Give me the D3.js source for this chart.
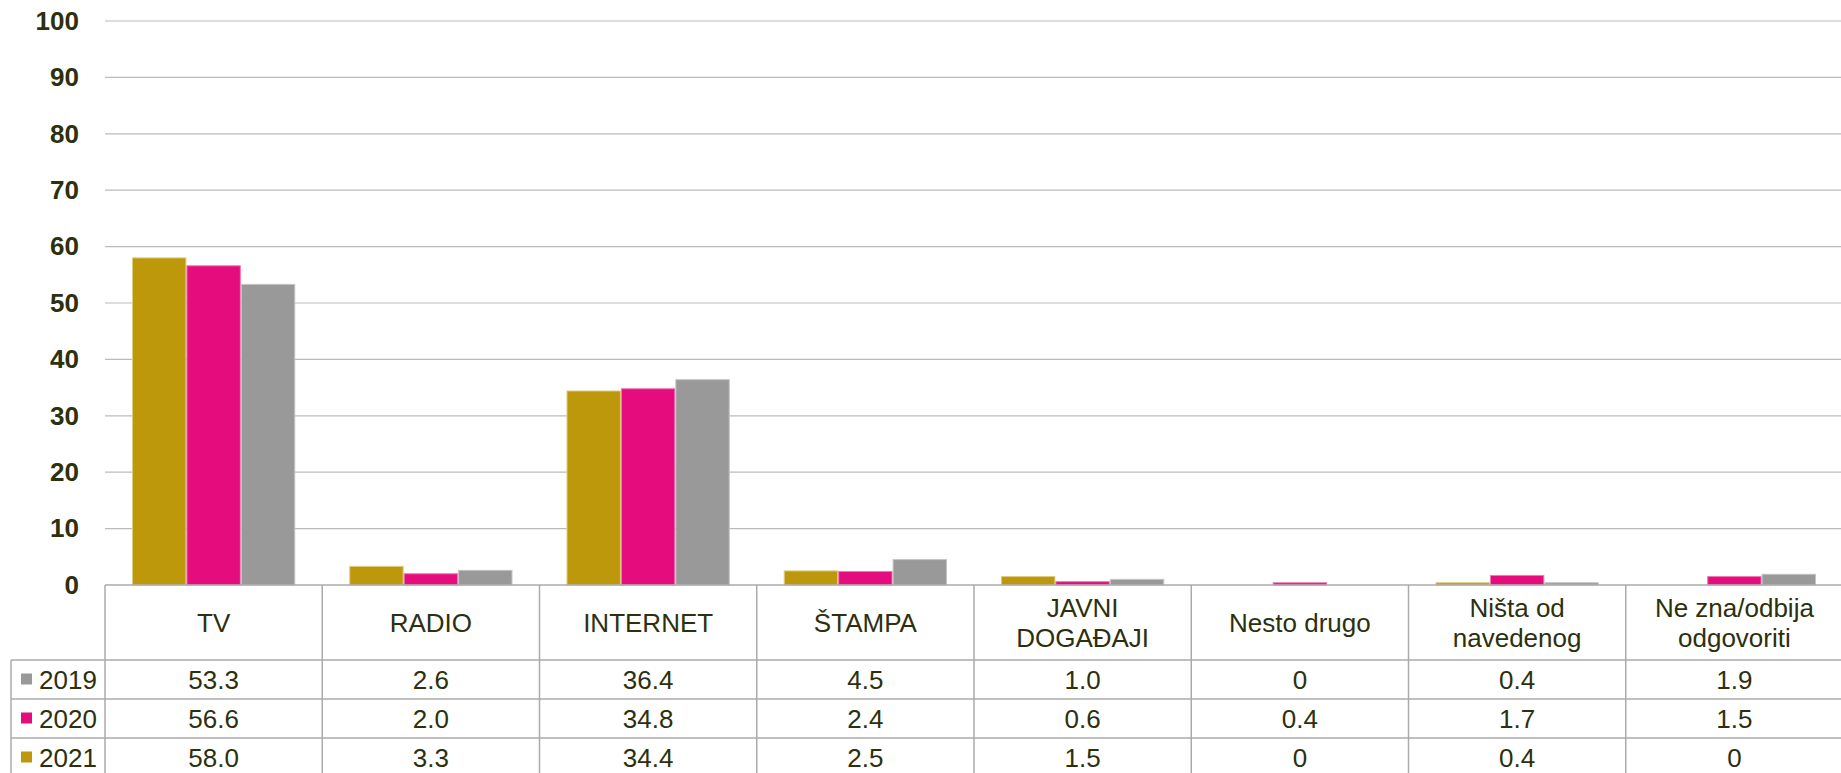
<!DOCTYPE html>
<html>
<head>
<meta charset="utf-8">
<script src="https://cdn.jsdelivr.net/npm/d3@7"></script>
<style>
  html, body { margin: 0; padding: 0; background: #fff; }
  svg { display: block; }
  text { font-family: "Liberation Sans", Arial, sans-serif; }
</style>
</head>
<body>
<svg id="chart" width="1841" height="773"></svg>
<script>
// Media sources by year (%)
const categories = ["TV", "RADIO", "INTERNET", "ŠTAMPA", "JAVNI DOGAĐAJI", "Nesto drugo", "Ništa od navedenog", "Ne zna/odbija odgovoriti"];
const categoryLines = [["TV"], ["RADIO"], ["INTERNET"], ["ŠTAMPA"], ["JAVNI", "DOGAĐAJI"], ["Nesto drugo"], ["Ništa od", "navedenog"], ["Ne zna/odbija", "odgovoriti"]];
const years = ["2019", "2020", "2021"];
const values2019 = [53.3, 2.6, 36.4, 4.5, 1.0, 0, 0.4, 1.9];
const values2020 = [56.6, 2.0, 34.8, 2.4, 0.6, 0.4, 1.7, 1.5];
const values2021 = [58.0, 3.3, 34.4, 2.5, 1.5, 0, 0.4, 0];
const yTicks = [0, 10, 20, 30, 40, 50, 60, 70, 80, 90, 100];

const seriesByYear = { "2019": values2019, "2020": values2020, "2021": values2021 };
const colors = { "2019": "#999999", "2020": "#e50d7e", "2021": "#bd980a" };
const strokeColors = { "2019": "#c4c4c4", "2020": "#f07ab4", "2021": "#e0cc80" };
const textColor = "#2c300d";
const gridColor = "#bbbbbb";
const tableColor = "#ababab";

const svg = d3.select("#chart");
const W = 1841;
const plotLeft = 105, plotRight = 1843;
const plotTop = 21, plotBottom = 585;
const headerBottom = 660, rowH = 39;
const legendLeft = 11;
const tableFont = "26px";

const x = d3.scaleBand().domain(categories).range([plotLeft, plotRight]).paddingInner(0).paddingOuter(0);
const barOrder = ["2021", "2020", "2019"];
const xInner = d3.scaleBand().domain(barOrder).range([27, x.bandwidth() - 27]).padding(0);
const y = d3.scaleLinear().domain([0, 100]).range([plotBottom, plotTop]);

// Horizontal gridlines and y axis labels
const yAxis = d3.axisLeft(y).tickValues(yTicks).tickSize(0).tickPadding(26);
const gAxis = svg.append("g").attr("transform", `translate(${plotLeft},0)`).call(yAxis);
gAxis.select(".domain").remove();
gAxis.selectAll("text")
  .attr("fill", textColor)
  .style("font-size", "26px")
  .style("font-weight", "bold")
  .style("font-family", "'Liberation Sans', Arial, sans-serif");

svg.append("g").selectAll("line")
  .data(yTicks.filter(t => t > 0))
  .join("line")
  .attr("x1", plotLeft).attr("x2", W)
  .attr("y1", d => y(d)).attr("y2", d => y(d))
  .attr("stroke", gridColor).attr("stroke-width", 1.2);

// Bars
const groups = svg.append("g").selectAll("g")
  .data(categories)
  .join("g")
  .attr("transform", d => `translate(${x(d)},0)`);

groups.selectAll("rect")
  .data((d, i) => barOrder.map(yr => ({ yr, v: seriesByYear[yr][i] })).filter(b => b.v > 0))
  .join("rect")
  .attr("x", d => xInner(d.yr) + 0.5)
  .attr("width", xInner.bandwidth() - 1)
  .attr("y", d => y(d.v))
  .attr("height", d => y(0) - y(d.v))
  .attr("fill", d => colors[d.yr])
  .attr("stroke", d => strokeColors[d.yr])
  .attr("stroke-width", 1);

// Data table below the chart
const table = svg.append("g");
const rowTops = years.map((yr, i) => headerBottom + i * rowH);

// top border of header row
table.append("line")
  .attr("x1", plotLeft).attr("x2", W)
  .attr("y1", plotBottom).attr("y2", plotBottom)
  .attr("stroke", tableColor).attr("stroke-width", 1.5);

// row borders
table.selectAll("line.row")
  .data(rowTops)
  .join("line").attr("class", "row")
  .attr("x1", legendLeft).attr("x2", W)
  .attr("y1", d => d).attr("y2", d => d)
  .attr("stroke", tableColor).attr("stroke-width", 1.5);

// column borders
table.selectAll("line.col")
  .data(categories)
  .join("line").attr("class", "col")
  .attr("x1", d => x(d)).attr("x2", d => x(d))
  .attr("y1", plotBottom).attr("y2", 773)
  .attr("stroke", tableColor).attr("stroke-width", 1.5);

table.append("line")
  .attr("x1", legendLeft).attr("x2", legendLeft)
  .attr("y1", headerBottom).attr("y2", 773)
  .attr("stroke", tableColor).attr("stroke-width", 1.5);

// category headers
const headerMid = (plotBottom + headerBottom) / 2;
table.selectAll("text.cat")
  .data(categories)
  .join("text").attr("class", "cat")
  .attr("text-anchor", "middle")
  .attr("fill", textColor)
  .style("font-size", tableFont)
  .each(function (d, i) {
    const lines = categoryLines[i];
    const lh = 30;
    const t = d3.select(this);
    lines.forEach((ln, k) => {
      t.append("tspan")
        .attr("x", x(d) + x.bandwidth() / 2)
        .attr("y", headerMid + (k - (lines.length - 1) / 2) * lh)
        .attr("dy", "0.35em")
        .text(ln);
    });
  });

// legend keys and values per row
const fmt = v => v === 0 ? "0" : v.toFixed(1);
years.forEach((yr, r) => {
  const cy = rowTops[r] + rowH / 2;
  table.append("rect")
    .attr("x", 21).attr("y", cy - 6)
    .attr("width", 11).attr("height", 11)
    .attr("fill", colors[yr]);
  table.append("text")
    .attr("x", 39).attr("y", cy).attr("dy", "0.35em")
    .attr("fill", textColor)
    .style("font-size", tableFont)
    .text(yr);
  table.selectAll(null)
    .data(categories)
    .join("text")
    .attr("x", d => x(d) + x.bandwidth() / 2)
    .attr("y", cy).attr("dy", "0.35em")
    .attr("text-anchor", "middle")
    .attr("fill", textColor)
    .style("font-size", tableFont)
    .text((d, i) => fmt(seriesByYear[yr][i]));
});
</script>
</body>
</html>
